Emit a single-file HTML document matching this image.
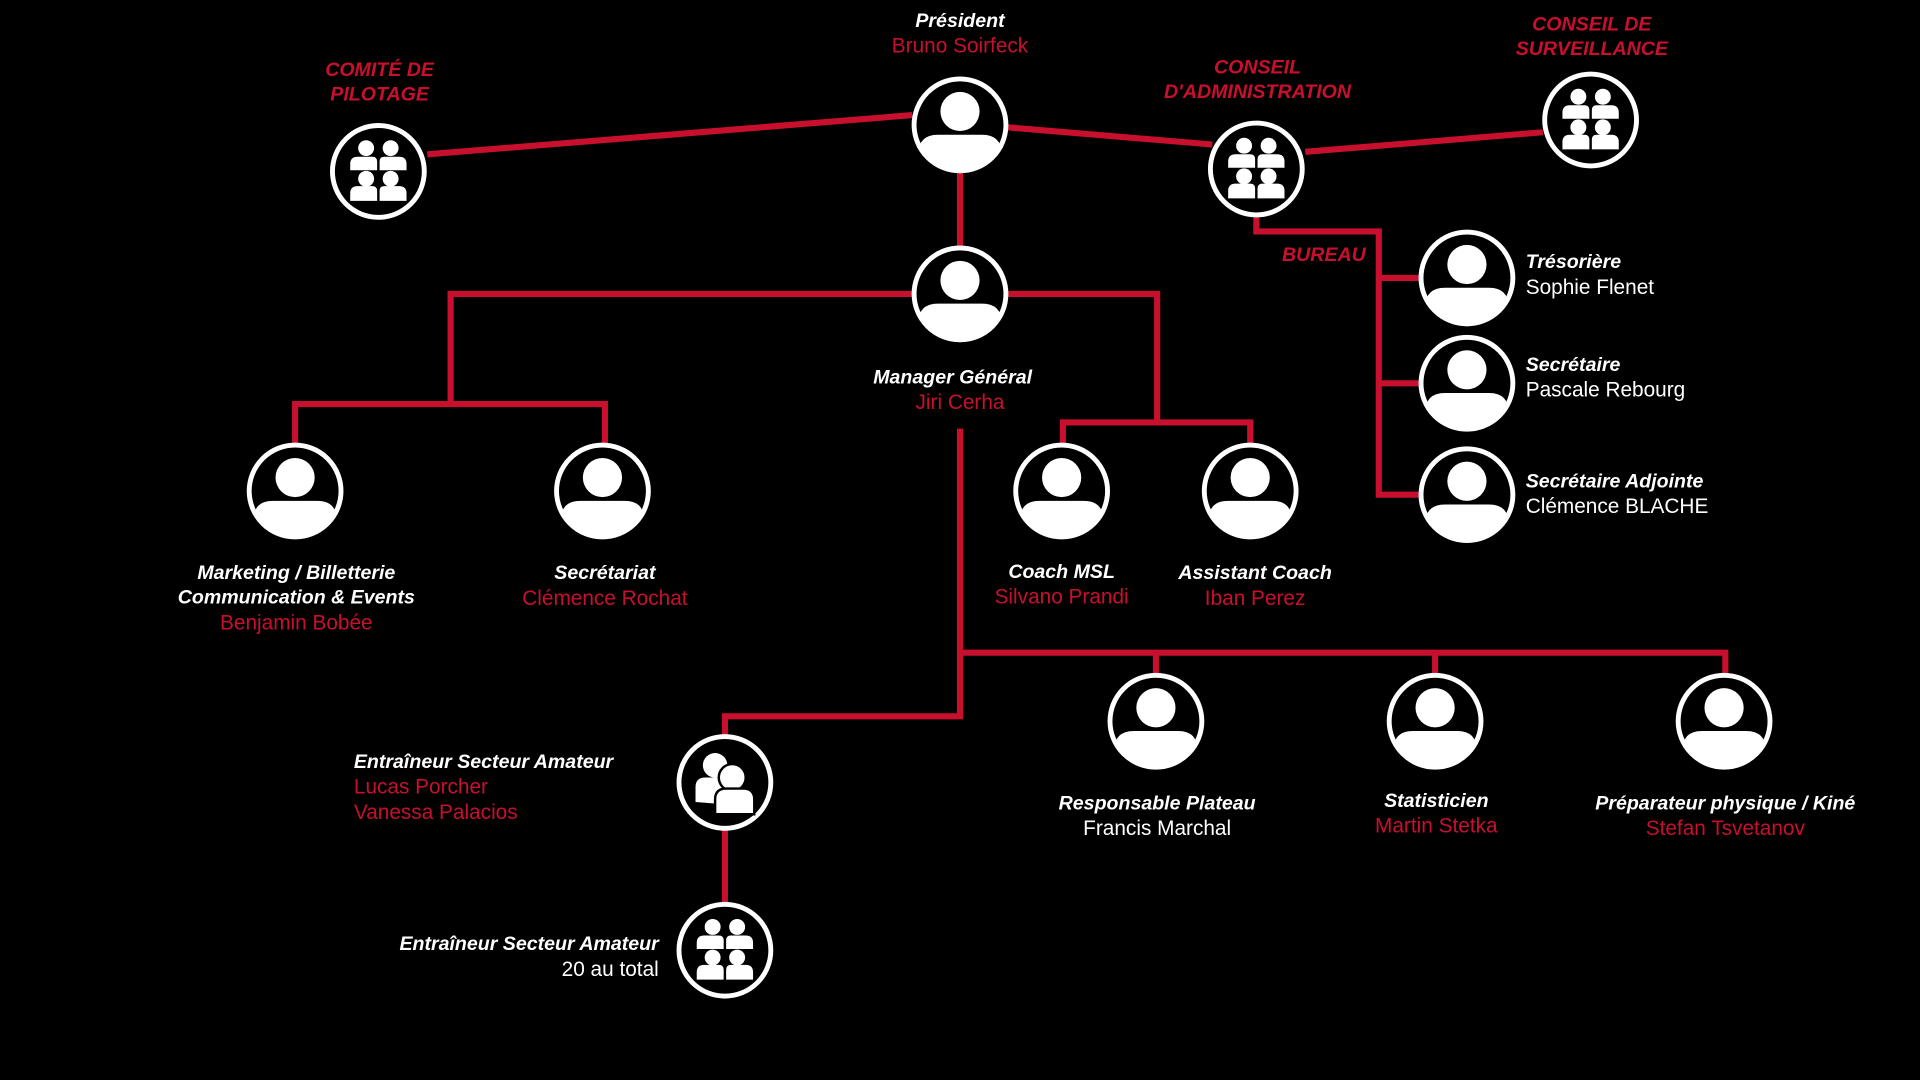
<!DOCTYPE html>
<html><head><meta charset="utf-8"><style>
html,body{margin:0;padding:0;background:#000;width:1920px;height:1080px;overflow:hidden}
svg{display:block}
text{font-family:"Liberation Sans",sans-serif;font-size:16px}
.t{fill:#fff;font-weight:bold;font-style:italic}
.r{fill:#c8102e;font-weight:bold;font-style:italic}
.n{fill:#c8102e;font-size:17px}
.w{fill:#fff;font-size:17px}
</style></head><body>
<svg width="1920" height="1080" viewBox="0 0 1568 882" xmlns="http://www.w3.org/2000/svg">
<defs>
<clipPath id="c"><circle cx="0" cy="0" r="36"/></clipPath>
<g id="p">
<circle r="37.5" fill="#000" stroke="#fff" stroke-width="4"/>
<g clip-path="url(#c)" fill="#fff">
<circle cx="0" cy="-11" r="16"/>
<path d="M-34 40 L-34 24 Q-34 8 -18 8 L18 8 Q34 8 34 24 L34 40 Z"/>
</g>
</g>
<g id="g">
<circle r="37.5" fill="#000" stroke="#fff" stroke-width="4"/>
<g fill="#fff">
<circle cx="-10" cy="-19" r="6.5"/><circle cx="10" cy="-19" r="6.5"/>
<path d="M-23 -1 v-5 q0 -6 6 -6 h12 q4 0 4 4 v7z"/><path d="M23 -1 v-5 q0 -6 -6 -6 h-12 q-4 0 -4 4 v7z"/>
<circle cx="-10" cy="6" r="6.5"/><circle cx="10" cy="6" r="6.5"/>
<path d="M-23 24 v-6 q0 -6 6 -6 h12 q4 0 4 4 v8z"/><path d="M23 24 v-6 q0 -6 -6 -6 h-12 q-4 0 -4 4 v8z"/>
</g>
</g>
<g id="d">
<circle r="37.5" fill="#000" stroke="#fff" stroke-width="4"/>
<g fill="#fff">
<circle cx="-8" cy="-14" r="10"/>
<path d="M-24 16 v-12 q0 -8 8 -8 h14 q4 0 4 4 v18z"/>
<circle cx="6" cy="-4" r="11" stroke="#000" stroke-width="2"/>
<path d="M-8 26 v-12 q0 -9 9 -9 h14 q9 0 9 9 v12z" stroke="#000" stroke-width="2"/>
</g>
</g>
</defs>
<g stroke="#c8102e" stroke-width="5" fill="none">
<path d="M349 126 L745 94"/><path d="M823 104 L990 118"/><path d="M1066 124 L1260 108"/>
<path d="M784 140 V202"/>
<path d="M368 330 V240 H745"/><path d="M823 240 H945 V345"/><path d="M868 362 V345 H1021 V362"/>
<path d="M241 362 V330 H494 V362"/>
<path d="M1026 176 V189 H1126 V404 H1160"/><path d="M1126 227 H1160"/><path d="M1126 313 H1160"/>
<path d="M784 350 V585 H592 V602"/><path d="M784 533 H1409 V552"/><path d="M944 533 V552"/><path d="M1172 533 V552"/>
<path d="M592 676 V740"/>
</g>
<use href="#g" x="309" y="140"/>
<use href="#p" x="784" y="102"/>
<use href="#g" x="1026" y="138"/>
<use href="#g" x="1299" y="98"/>
<use href="#p" x="784" y="240"/>
<use href="#p" x="241" y="401"/><use href="#p" x="492" y="401"/>
<use href="#p" x="867" y="401"/><use href="#p" x="1021" y="401"/>
<use href="#p" x="1198" y="227"/><use href="#p" x="1198" y="313"/><use href="#p" x="1198" y="404"/>
<use href="#d" x="592" y="639"/><use href="#g" x="592" y="776"/>
<use href="#p" x="944" y="589"/><use href="#p" x="1172" y="589"/><use href="#p" x="1408" y="589"/>

<g text-anchor="middle">
<text class="r" x="310" y="62">COMITÉ DE</text><text class="r" x="310" y="82">PILOTAGE</text>
<text class="t" x="784" y="22">Président</text><text class="n" x="784" y="43">Bruno Soirfeck</text>
<text class="r" x="1027" y="60">CONSEIL</text><text class="r" x="1027" y="80">D'ADMINISTRATION</text>
<text class="r" x="1300" y="25">CONSEIL DE</text><text class="r" x="1300" y="45">SURVEILLANCE</text>
<text class="t" x="778" y="313">Manager Général</text><text class="n" x="784" y="334">Jiri Cerha</text>
<text class="t" x="242" y="473">Marketing / Billetterie</text><text class="t" x="242" y="493">Communication &amp; Events</text><text class="n" x="242" y="514">Benjamin Bobée</text>
<text class="t" x="494" y="473">Secrétariat</text><text class="n" x="494" y="494">Clémence Rochat</text>
<text class="t" x="867" y="472">Coach MSL</text><text class="n" x="867" y="493">Silvano Prandi</text>
<text class="t" x="1025" y="473">Assistant Coach</text><text class="n" x="1025" y="494">Iban Perez</text>
<text class="t" x="945" y="661">Responsable Plateau</text><text class="w" x="945" y="682">Francis Marchal</text>
<text class="t" x="1173" y="659">Statisticien</text><text class="n" x="1173" y="680">Martin Stetka</text>
<text class="t" x="1409" y="661">Préparateur physique / Kiné</text><text class="n" x="1409" y="682">Stefan Tsvetanov</text>
</g>
<text class="r" x="1047" y="213">BUREAU</text>
<text class="t" x="1246" y="219">Trésorière</text><text class="w" x="1246" y="240">Sophie Flenet</text>
<text class="t" x="1246" y="303">Secrétaire</text><text class="w" x="1246" y="324">Pascale Rebourg</text>
<text class="t" x="1246" y="398">Secrétaire Adjointe</text><text class="w" x="1246" y="419">Clémence BLACHE</text>
<text class="t" x="289" y="627">Entraîneur Secteur Amateur</text><text class="n" x="289" y="648">Lucas Porcher</text><text class="n" x="289" y="669">Vanessa Palacios</text>
<g text-anchor="end">
<text class="t" x="538" y="776">Entraîneur Secteur Amateur</text><text class="w" x="538" y="797">20 au total</text>
</g>
</svg>
</body></html>
